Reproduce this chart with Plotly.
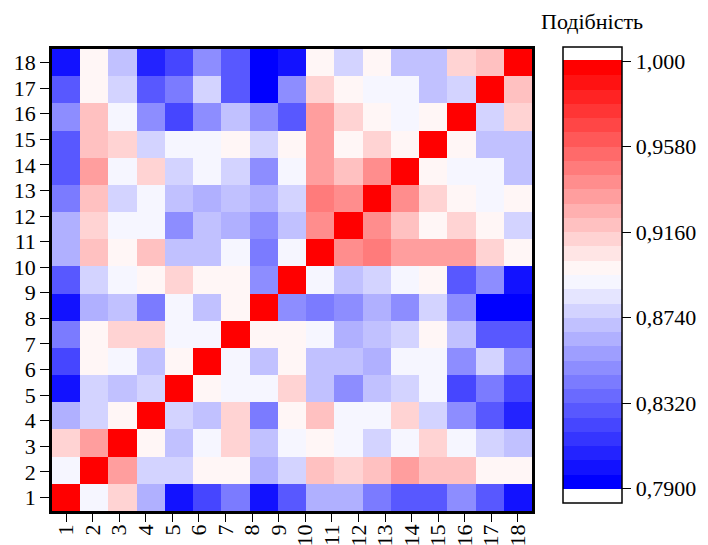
import numpy as np
import plotly.graph_objects as go

# Axis labels (18 ticks) and the 17x17 similarity matrix (rows bottom -> top)
tick_labels = [str(i) for i in range(1, 19)]
similarity = [
    [1.000,0.892,0.913,0.864,0.801,0.822,0.843,0.801,0.829,0.864,0.864,0.843,0.829,0.829,0.850,0.829,0.801],
    [0.892,1.000,0.934,0.878,0.878,0.899,0.899,0.864,0.878,0.920,0.913,0.920,0.934,0.920,0.920,0.899,0.899],
    [0.913,0.934,1.000,0.899,0.871,0.892,0.913,0.871,0.892,0.899,0.892,0.878,0.892,0.913,0.892,0.878,0.871],
    [0.864,0.878,0.899,1.000,0.878,0.871,0.913,0.843,0.899,0.920,0.892,0.892,0.913,0.878,0.850,0.829,0.808],
    [0.801,0.878,0.871,0.878,1.000,0.899,0.892,0.892,0.913,0.871,0.850,0.871,0.878,0.892,0.822,0.843,0.822],
    [0.822,0.899,0.892,0.871,0.899,1.000,0.892,0.871,0.899,0.871,0.871,0.864,0.892,0.892,0.850,0.878,0.850],
    [0.843,0.899,0.913,0.913,0.892,0.892,1.000,0.899,0.899,0.892,0.864,0.871,0.878,0.899,0.871,0.829,0.829],
    [0.801,0.864,0.871,0.843,0.892,0.871,0.899,1.000,0.850,0.843,0.850,0.864,0.850,0.878,0.850,0.794,0.794],
    [0.829,0.878,0.892,0.899,0.913,0.899,0.899,0.850,1.000,0.892,0.871,0.878,0.892,0.899,0.829,0.850,0.801],
    [0.864,0.920,0.899,0.920,0.871,0.871,0.892,0.843,0.892,1.000,0.941,0.948,0.934,0.934,0.934,0.913,0.899],
    [0.864,0.913,0.892,0.892,0.850,0.871,0.864,0.850,0.871,0.941,1.000,0.941,0.920,0.899,0.913,0.899,0.878],
    [0.843,0.920,0.878,0.892,0.871,0.864,0.871,0.864,0.878,0.948,0.941,1.000,0.941,0.913,0.899,0.892,0.899],
    [0.829,0.934,0.892,0.913,0.878,0.892,0.878,0.850,0.892,0.934,0.920,0.941,1.000,0.899,0.892,0.892,0.871],
    [0.829,0.920,0.913,0.878,0.892,0.892,0.899,0.878,0.899,0.934,0.899,0.913,0.899,1.000,0.899,0.871,0.871],
    [0.850,0.920,0.892,0.850,0.822,0.850,0.871,0.850,0.829,0.934,0.913,0.899,0.892,0.899,1.000,0.878,0.913],
    [0.829,0.899,0.878,0.829,0.843,0.878,0.829,0.794,0.850,0.913,0.899,0.892,0.892,0.871,0.878,1.000,0.920],
    [0.801,0.899,0.871,0.808,0.822,0.850,0.829,0.794,0.801,0.899,0.878,0.899,0.871,0.871,0.913,0.920,1.000],
]
cbar_tickvals = [0.790, 0.832, 0.874, 0.916, 0.958, 1.000]
cbar_ticktext = ["0,7900", "0,8320", "0,8740", "0,9160", "0,9580", "1,000"]

FONT = "Liberation Serif"
FS = 22
n = len(similarity)
centers = np.linspace(1, 18, n)  # matrix spans axis values 1..18
half = (18 - 1) / (n - 1) / 2

# stepped blue-white-red palette, 30 levels, white out-of-range caps
zmin, zmax = 0.783, 1.007
lo, step, nlev = 0.790, 0.007, 30
def nrm(v):
    return (v - zmin) / (zmax - zmin)
scale = [[0.0, "rgb(255,255,255)"], [nrm(lo), "rgb(255,255,255)"]]
for k in range(nlev):
    if k < 15:
        c = round(255 * k / 14.5)
        col = f"rgb({c},{c},255)"
    else:
        c = round(255 * (29 - k) / 14.5)
        col = f"rgb(255,{c},{c})"
    a = nrm(lo + k * step)
    b = nrm(lo + (k + 1) * step) if k < nlev - 1 else nrm(1.0005)
    scale += [[a, col], [b, col]]
scale += [[nrm(1.0005), "rgb(255,255,255)"], [1.0, "rgb(255,255,255)"]]

fig = go.Figure(go.Heatmap(
    z=similarity, x=centers, y=centers,
    zmin=zmin, zmax=zmax, colorscale=scale, zsmooth=False,
    colorbar=dict(
        thickness=59, len=456, lenmode="pixels",
        x=1.0646, xanchor="left", y=0.5108, yanchor="middle",
        xpad=0, ypad=0, outlinewidth=1.5, outlinecolor="black",
        tickmode="array", tickvals=cbar_tickvals, ticktext=cbar_ticktext,
        ticks="outside", ticklen=9, tickwidth=1.2, tickcolor="black",
        tickfont=dict(family=FONT, size=FS, color="black"),
    ),
))

axis_common = dict(
    range=[1 - half, 18 + half], tickmode="array",
    tickvals=list(range(1, 19)), ticktext=tick_labels,
    ticks="outside", tickwidth=1.2, tickcolor="black",
    showline=True, linecolor="black", linewidth=2.5, mirror=True,
    showgrid=False, zeroline=False, automargin=False,
    tickfont=dict(family=FONT, size=FS, color="black"),
)
fig.update_xaxes(**axis_common, tickangle=-90, ticklen=8, ticklabelstandoff=-6)
fig.update_yaxes(**axis_common, ticklen=9)

fig.add_annotation(text="Подібність", xref="paper", yref="paper",
                   x=1.125, y=1.0606, xanchor="center", yanchor="middle",
                   showarrow=False, font=dict(family=FONT, size=FS, color="black"))

fig.update_layout(
    width=708, height=545,
    margin=dict(l=52, r=176, t=49, b=34, autoexpand=False),
    paper_bgcolor="white", plot_bgcolor="white",
    font=dict(family=FONT, color="black"),
)
fig.write_html("out.html", config={"displayModeBar": False},
               post_script="document.body.style.margin='0';document.body.style.overflow='hidden';")
